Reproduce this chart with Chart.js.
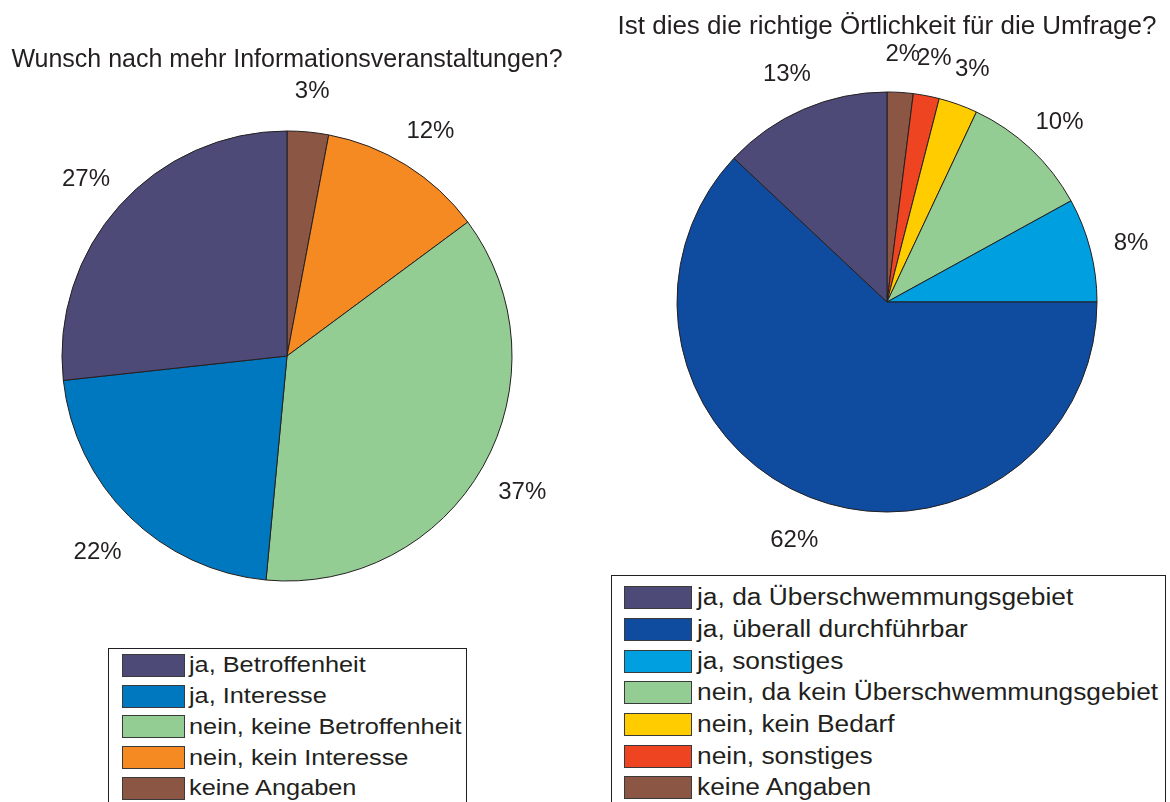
<!DOCTYPE html>
<html lang="de">
<head>
    <meta charset="UTF-8" />
    <title>Umfrage - Auswertung</title>
    <script src="https://cdn.jsdelivr.net/npm/chart.js"></script>
    <style>
        body {
            margin: 0;
            width: 1170px;
            height: 802px;
            background: #fff;
            position: relative;
            overflow: hidden;
            font-family: "Liberation Sans", Arial, Helvetica, sans-serif;
            color: #231f20;
        }
        .chart-box {
            position: absolute;
            top: 0;
        }
        .legend {
            position: absolute;
            border: 1px solid #231f20;
            background: #fff;
        }
        .legend-row {
            display: flex;
            align-items: center;
            white-space: nowrap;
        }
        .legend-swatch {
            flex: none;
            height: 21px;
            border: 1px solid #3a3a3a;
        }
        .legend-text {
            display: inline-block;
            transform-origin: left center;
        }
        #infoLegend { padding: 1px 0 0 13px; font-size: 22px; }
        #infoLegend .legend-row { height: 30.75px; }
        #infoLegend .legend-swatch { width: 61px; margin-right: 4px; }
        #infoLegend .legend-text { transform: scaleX(1.15); }
        #ortLegend { padding: 6px 0 0 12px; font-size: 23px; }
        #ortLegend .legend-row { height: 31.67px; }
        #ortLegend .legend-swatch { width: 66px; margin-right: 5px; }
        #ortLegend .legend-text { transform: scaleX(1.145); }
    </style>
</head>
<body>
    <div class="chart-box" style="left:0px"><canvas id="infoChart" width="574" height="640"></canvas></div>
    <div class="chart-box" style="left:604px"><canvas id="ortChart" width="566" height="570"></canvas></div>

    <div class="legend" id="infoLegend" style="left:108px; top:648px; width:344px; height:170px"></div>
    <div class="legend" id="ortLegend" style="left:611px; top:575px; width:541px; height:240px"></div>

    <script>
        // Wunsch nach mehr Informationsveranstaltungen? (Legendenreihenfolge)
        const infoLabels = ["ja, Betroffenheit", "ja, Interesse", "nein, keine Betroffenheit", "nein, kein Interesse", "keine Angaben"];
        const infoValues = [27, 22, 37, 12, 3];
        const infoColors = ["#4e4a78", "#0078c0", "#93cd93", "#f58a22", "#8c5645"];

        // Ist dies die richtige Örtlichkeit für die Umfrage?
        const ortLabels = ["ja, da Überschwemmungsgebiet", "ja, überall durchführbar", "ja, sonstiges",
            "nein, da kein Überschwemmungsgebiet", "nein, kein Bedarf", "nein, sonstiges", "keine Angaben"];
        const ortValues = [13, 62, 8, 10, 3, 2, 2];
        const ortColors = ["#4e4a78", "#0f4c9f", "#00a0e0", "#93cd93", "#ffcc00", "#ee4422", "#8c5645"];

        const fontFamily = '"Liberation Sans", Arial, Helvetica, sans-serif';
        const textColor = "#231f20";

        // Prozentangaben ausserhalb der Tortenstücke (1.2 x Radius)
        const percentLabels = {
            id: "percentLabels",
            afterDatasetsDraw(chart) {
                const ctx = chart.ctx;
                const meta = chart.getDatasetMeta(0);
                const values = chart.data.datasets[0].data;
                ctx.save();
                ctx.font = "24px " + fontFamily;
                ctx.fillStyle = textColor;
                ctx.textAlign = "center";
                ctx.textBaseline = "middle";
                meta.data.forEach((arc, i) => {
                    const mid = (arc.startAngle + arc.endAngle) / 2;
                    const r = arc.outerRadius * 1.2;
                    ctx.fillText(values[i] + "%", arc.x + Math.cos(mid) * r, arc.y + Math.sin(mid) * r + 4);
                });
                ctx.restore();
            }
        };

        // MATLAB zeichnet gegen den Uhrzeigersinn, Chart.js im Uhrzeigersinn -> umdrehen
        function makePie(canvasId, title, titleSize, labels, values, colors, radius, bottomPad, titlePadding) {
            return new Chart(document.getElementById(canvasId), {
                type: "pie",
                data: {
                    labels: labels.slice().reverse(),
                    datasets: [{
                        data: values.slice().reverse(),
                        backgroundColor: colors.slice().reverse(),
                        borderColor: "#231f20",
                        borderWidth: 1,
                        radius: radius
                    }]
                },
                options: {
                    responsive: false,
                    animation: false,
                    events: [],
                    layout: { padding: { left: 0, right: 0, top: 0, bottom: bottomPad } },
                    plugins: {
                        legend: { display: false },
                        tooltip: { enabled: false },
                        title: {
                            display: true,
                            text: title,
                            color: textColor,
                            font: { family: fontFamily, size: titleSize, weight: "normal", lineHeight: 1.2 },
                            padding: titlePadding
                        }
                    }
                },
                plugins: [percentLabels]
            });
        }

        function makeLegend(boxId, labels, colors) {
            const box = document.getElementById(boxId);
            labels.forEach((label, i) => {
                const row = document.createElement("div");
                row.className = "legend-row";
                const sw = document.createElement("span");
                sw.className = "legend-swatch";
                sw.style.background = colors[i];
                const txt = document.createElement("span");
                txt.className = "legend-text";
                txt.textContent = label;
                row.appendChild(sw);
                row.appendChild(txt);
                box.appendChild(row);
            });
        }

        makePie("infoChart", "Wunsch nach mehr Informationsveranstaltungen?", 25, infoLabels, infoValues, infoColors,
            225, 59, { top: 45, bottom: 56 });
        makePie("ortChart", "Ist dies die richtige Örtlichkeit für die Umfrage?", 26, ortLabels, ortValues, ortColors,
            210, 58, { top: 11.4, bottom: 49.4 });

        makeLegend("infoLegend", infoLabels, infoColors);
        makeLegend("ortLegend", ortLabels, ortColors);
    </script>
</body>
</html>
